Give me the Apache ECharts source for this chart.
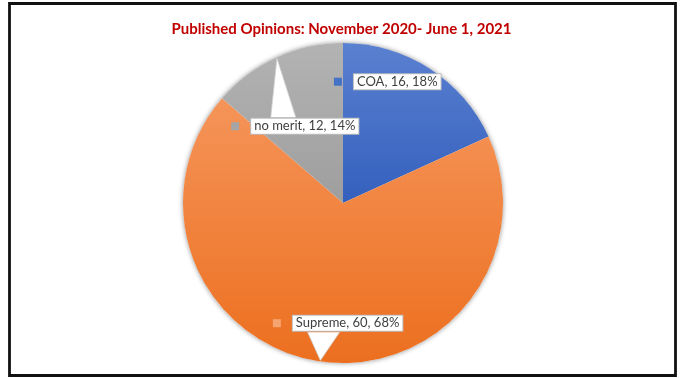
<!DOCTYPE html>
<html>
<head>
<meta charset="utf-8">
<script src="https://cdn.jsdelivr.net/npm/echarts@6/dist/echarts.min.js"></script>
<style>html,body{margin:0;padding:0;background:#fff;}#c{width:683px;height:378px;}</style>
</head>
<body>
<div id="c"></div>
<script>
const titleText = 'Published Opinions: November 2020- June 1, 2021';
const categories = ['COA', 'Supreme', 'no merit'];
const values = [16, 60, 12];
const percents = ['18%', '68%', '14%'];

const CENTER = [343, 203];
const RADIUS = 160;
// label offsets (px) from the default "inside" anchor
const labelOffsets = [[1, -54], [6, 41], [-15, -4]];
const keyColors = ['#4472c4', '#f4a46e', '#a5a5a5'];
const gradients = [
  ['#5a80d0', '#3460bd'],
  ['#f59459', '#ec6f1f'],
  ['#b3b3b3', '#9e9e9e']
];
const FONT = 'Lato, "Liberation Sans", sans-serif';
const BOX_H = 20;

const total = values.reduce((a, b) => a + b, 0);
const midAngles = [];
let acc = 0;
values.forEach(v => { midAngles.push((acc + v / 2) / total * 2 * Math.PI); acc += v; });

function labelCenter(i) {
  const a = midAngles[i];
  const r = RADIUS / 2;
  return [CENTER[0] + r * Math.sin(a) + labelOffsets[i][0],
          CENTER[1] - r * Math.cos(a) + labelOffsets[i][1]];
}

const data = categories.map((name, i) => ({
  name: name,
  value: values[i],
  itemStyle: {
    color: { type: 'linear', x: 0, y: 0, x2: 0, y2: 1,
      colorStops: [{ offset: 0, color: gradients[i][0] }, { offset: 1, color: gradients[i][1] }] }
  },
  label: {
    rich: {
      k: { width: 8, height: 8, backgroundColor: keyColors[i] },
      g: { width: 12 },
      t: { backgroundColor: '#ffffff', borderColor: '#bfbfbf', borderWidth: 1,
           padding: [1, 3, 1, 3], lineHeight: 18, fontSize: 13, color: '#404040', fontFamily: FONT }
    }
  }
}));

// callout pointers (white triangles) from label box to slice edge
const pointers = [];
[[2, -1, -24, 1], [1, 1, -30, 2]].forEach(([i, side, b0, b1]) => {
  const c = labelCenter(i);
  const a = midAngles[i];
  const apex = [CENTER[0] + (RADIUS - 1) * Math.sin(a), CENTER[1] - (RADIUS - 1) * Math.cos(a)];
  const by = c[1] + side * (BOX_H / 2 - 1);
  const p0 = [c[0] + b0, by], p1 = [c[0] + b1, by];
  pointers.push({ type: 'polygon', z: 100, silent: true, shape: { points: [p0, apex, p1] },
    style: { fill: '#ffffff', stroke: null } });
  pointers.push({ type: 'polyline', z: 101, silent: true, shape: { points: [p0, apex, p1] },
    style: { stroke: '#d0d0d0', lineWidth: 0.8, fill: null } });
});

const chart = echarts.init(document.getElementById('c'), null, { renderer: 'canvas' });
chart.setOption({
  animation: false,
  title: {
    text: titleText, left: 'center', top: 17,
    textStyle: { color: '#c00000', fontSize: 15, fontWeight: 'bold', fontFamily: FONT }
  },
  graphic: [
    { type: 'rect', z: 0, silent: true, shape: { x: 9.5, y: 3.5, width: 666, height: 372 },
      style: { fill: null, stroke: '#111', lineWidth: 2.8 } }
  ].concat(pointers),
  series: [
    {
      type: 'pie', silent: true, z: 1, center: CENTER, radius: RADIUS,
      label: { show: false }, labelLine: { show: false },
      itemStyle: { color: '#ffffff', shadowBlur: 5, shadowColor: 'rgba(0,0,0,0.45)' },
      data: [{ value: 1 }]
    },
    {
      type: 'pie', z: 2, center: CENTER, radius: RADIUS, startAngle: 90, clockwise: true,
      itemStyle: { borderWidth: 0 },
      emphasis: { disabled: true },
      label: {
        show: true, position: 'inside',
        formatter: p => '{k|}{g|}{t|' + p.name + ', ' + p.value + ', ' + percents[p.dataIndex] + '}'
      },
      labelLine: { show: false },
      labelLayout: p => { const c = labelCenter(p.dataIndex); return { x: c[0], y: c[1] }; },
      data: data
    }
  ]
});
</script>
</body>
</html>
